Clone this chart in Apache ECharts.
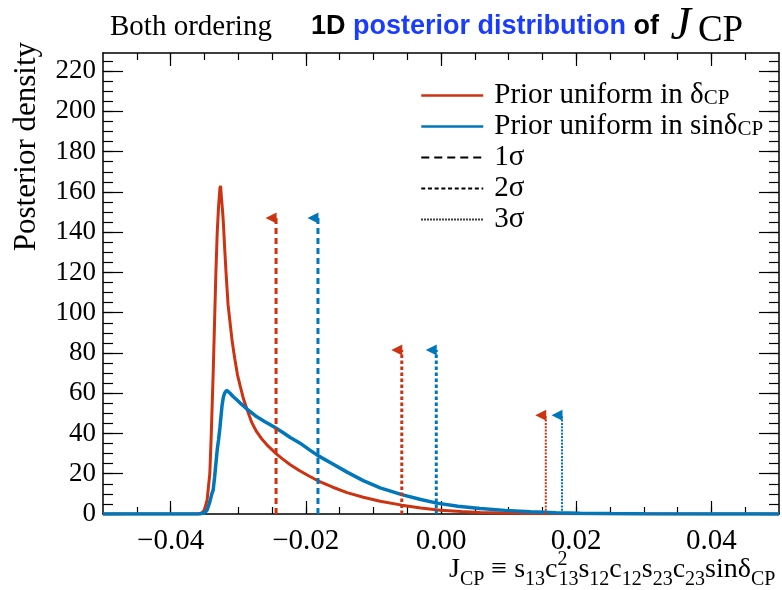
<!DOCTYPE html>
<html><head><meta charset="utf-8">
<script src="https://cdn.jsdelivr.net/npm/echarts@6/dist/echarts.min.js"></script>
<style>html,body{margin:0;padding:0;background:#fff}#c{width:782px;height:590px}</style>
</head><body><div id="c"></div>
<script>
// ---- data ----
const redJ = [-0.0500,-0.0360,-0.0354,-0.0350,-0.0346,-0.0342,-0.0340,-0.0337,-0.0335,-0.0333,-0.0331,-0.0329,-0.0327,-0.0326,-0.0325,-0.0323,-0.0322,-0.0320,-0.0318,-0.0315,-0.0312,-0.0309,-0.0305,-0.0301,-0.0297,-0.0292,-0.0287,-0.0280,-0.0273,-0.0265,-0.0256,-0.0244,-0.0235,-0.0223,-0.0209,-0.0196,-0.0182,-0.0160,-0.0139,-0.0115,-0.0090,-0.0058,-0.0030,-0.0001,0.0030,0.0058,0.0100,0.0132,0.0200,0.0300,0.0400,0.0500];
const redV = [0,0,0.5,2,7,20,38,70,95,120,140,153,162,163,158,150,145,132,120,104,95,86,77,69,63.5,57,52,45.5,41,37.2,33.8,30,27.5,24.5,21.5,19,16.5,13.3,10.6,8.3,6.3,4.4,3,1.9,1.2,0.8,0.45,0.3,0.12,0.04,0.01,0];
const blueJ = [-0.0500,-0.0358,-0.0350,-0.0346,-0.0342,-0.0339,-0.0337,-0.0335,-0.0333,-0.0331,-0.0329,-0.0327,-0.0324,-0.0322,-0.0320,-0.0317,-0.0315,-0.0312,-0.0308,-0.0303,-0.0297,-0.0290,-0.0282,-0.0273,-0.0261,-0.0248,-0.0235,-0.0223,-0.0209,-0.0195,-0.0182,-0.0160,-0.0139,-0.0115,-0.0090,-0.0058,-0.0030,-0.0006,0.0025,0.0058,0.0095,0.0132,0.0170,0.0206,0.0250,0.0300,0.0400,0.0500];
const blueV = [0,0,0.5,2,6,10,12,18,25,32,37,43,53.6,58,60.1,61.5,61.4,60,58.5,57,55.1,53,50.8,48.4,46,43.5,40.7,38,35.3,32,29,24.8,20.8,16.6,13,9.6,7.2,5.4,3.8,2.7,1.8,1.1,0.6,0.35,0.2,0.1,0.03,0];
const sigmaNames = ['1σ','2σ','3σ'];
const redLimits = [-0.0244,-0.0058,0.0155];
const blueLimits = [-0.0182,-0.0007,0.0179];
const limitHeights = [147,81.5,49];
const xMajorTicks = [-0.04,-0.02,0,0.02,0.04];
const xMinorTicks = [-0.045,-0.04,-0.035,-0.03,-0.025,-0.02,-0.015,-0.01,-0.005,0,0.005,0.01,0.015,0.02,0.025,0.03,0.035,0.04,0.045];
const yMajorTicks = [0,20,40,60,80,100,120,140,160,180,200,220];
const yMinorTicks = [0,5,10,15,20,25,30,35,40,45,50,55,60,65,70,75,80,85,90,95,100,105,110,115,120,125,130,135,140,145,150,155,160,165,170,175,180,185,190,195,200,205,210,215,220,225];
const seriesNames = ['Prior uniform in δCP','Prior uniform in sinδCP'];
const legendLabels = {'Prior uniform in δCP':'{t|Prior uniform in δ}{s|CP}','Prior uniform in sinδCP':'{t|Prior uniform in sinδ}{s|CP}','1σ':'{t|1σ}','2σ':'{t|2σ}','3σ':'{t|3σ}'};

// ---- styles ----
const RED = '#CC3311', BLUE = '#0077BB';
const SERIF = 'Liberation Serif';
const zip = (a, b) => a.map((v, i) => [v, b[i]]);
const sigmaDash = [[6,4],[3.5,2.5],[2,1.3]];
const sigmaWidth = [3,3,2];
const legendDash = [[8,5],[4,2.7],[1.5,1.5]];
const legendWidth = [2,2,1.5];

function fmtX(v){ if (Math.abs(v) < 1e-9) return '0.00'; return (v < 0 ? '\u2212' : '') + Math.abs(v).toFixed(2); }

function xAx(pos, ticks, len, line, labels){
  return {type:'value', position:pos, min:-0.05, max:0.05,
    axisLine:{show:line, onZero:false, lineStyle:{color:'#000', width:1.5}},
    axisTick:{show:true, inside:true, length:len, customValues:ticks, lineStyle:{color:'#000', width:1.2}},
    axisLabel:{show:labels, customValues:ticks, formatter:fmtX, margin:13, fontFamily:SERIF, fontSize:29, color:'#000'},
    splitLine:{show:false}, minorTick:{show:false}};
}
function yAx(pos, ticks, len, line, labels){
  return {type:'value', position:pos, min:0, max:229,
    axisLine:{show:line, onZero:false, lineStyle:{color:'#000', width:1.5}},
    axisTick:{show:true, inside:true, length:len, customValues:ticks, lineStyle:{color:'#000', width:1.2}},
    axisLabel:{show:labels, customValues:ticks, margin:7, fontFamily:SERIF, fontSize:27, color:'#000'},
    splitLine:{show:false}, minorTick:{show:false}};
}

const series = [
  {type:'line', name:seriesNames[0], data:zip(redJ, redV), symbol:'none', clip:true,
   lineStyle:{color:RED, width:3}, itemStyle:{color:RED}, z:3},
  {type:'line', name:seriesNames[1], data:zip(blueJ, blueV), symbol:'none', clip:true,
   lineStyle:{color:BLUE, width:3.5}, itemStyle:{color:BLUE}, z:4}
];
sigmaNames.forEach((n, k) => {
  series.push({type:'line', name:n, data:[], symbol:'none',
    lineStyle:{color:'#000', width:legendWidth[k], type:legendDash[k]}, itemStyle:{color:'#000'}});
});
sigmaNames.forEach((n, k) => {
  [[redLimits[k], RED], [blueLimits[k], BLUE]].forEach(([x, col]) => {
    series.push({type:'line', data:[
        {value:[x, 0], symbol:'none'},
        {value:[x, limitHeights[k]], symbol:'triangle', symbolSize:[11,11], symbolRotate:90, symbolOffset:[-5,0]}],
      showSymbol:true, silent:true, clip:false, z:5,
      lineStyle:{color:col, width:sigmaWidth[k], type:sigmaDash[k]}, itemStyle:{color:col}});
  });
});

const legendData = seriesNames.map(n => ({name:n, lineStyle:{width:2.5}, itemStyle:{opacity:0}}))
  .concat(sigmaNames.map(n => ({name:n, itemStyle:{opacity:0}})));

const chart = echarts.init(document.getElementById('c'), null, {renderer:'canvas'});
chart.setOption({
  animation:false,
  backgroundColor:'#fff',
  grid:{left:103, right:3, top:53, bottom:76, containLabel:false},
  xAxis:[xAx('bottom', xMajorTicks, 13, true, true), xAx('bottom', xMinorTicks, 7, false, false),
         xAx('top', xMajorTicks, 13, true, false), xAx('top', xMinorTicks, 7, false, false)],
  yAxis:[yAx('left', yMajorTicks, 20, true, true), yAx('left', yMinorTicks, 10, false, false),
         yAx('right', yMajorTicks, 20, true, false), yAx('right', yMinorTicks, 10, false, false)],
  legend:{data:legendData, orient:'vertical', left:415, top:76, itemWidth:62, itemHeight:26, itemGap:2,
    selectedMode:false, formatter:n => legendLabels[n],
    textStyle:{color:'#000', fontFamily:SERIF, fontSize:29, padding:[0,0,0,6],
      rich:{t:{fontFamily:SERIF, fontSize:29, lineHeight:26, color:'#000'},
            s:{fontFamily:SERIF, fontSize:21, lineHeight:14, verticalAlign:'bottom', color:'#000'}}}},
  graphic:[
    {type:'text', x:110, y:27, style:{text:'Both ordering', font:'29px "Liberation Serif"', fill:'#000', align:'left', verticalAlign:'middle', textAlign:'left', textVerticalAlign:'middle'}},
    {type:'text', x:311, y:27, style:{text:'{b|1D }{c|posterior distribution}{b| of }{j|J}{s|CP}',
      align:'left', verticalAlign:'middle', textAlign:'left', textVerticalAlign:'middle',
      rich:{b:{fontFamily:'Liberation Sans', fontWeight:'bold', fontSize:27, fill:'#000', lineHeight:46},
            c:{fontFamily:'Liberation Sans', fontWeight:'bold', fontSize:27, fill:'#1a3cff', lineHeight:46},
            j:{fontFamily:SERIF, fontStyle:'italic', fontSize:46, fill:'#000', lineHeight:46, padding:[0,0,0,4]},
            s:{fontFamily:SERIF, fontSize:37, fill:'#000', lineHeight:28, verticalAlign:'bottom', padding:[0,0,0,7]}}}},
    {type:'text', x:449, y:570, style:{text:'{m|J}{s|CP}{m| ≡ s}{s|13}{m|c}{p|2}{s|13}{m|s}{s|12}{m|c}{s|12}{m|s}{s|23}{m|c}{s|23}{m|sinδ}{s|CP}',
      align:'left', verticalAlign:'middle', textAlign:'left', textVerticalAlign:'middle',
      rich:{m:{fontFamily:SERIF, fontSize:28, fill:'#000', lineHeight:40},
            s:{fontFamily:SERIF, fontSize:20, fill:'#000', lineHeight:24, verticalAlign:'bottom'},
            p:{fontFamily:SERIF, fontSize:20, fill:'#000', lineHeight:30, verticalAlign:'top', width:1}}}},
    {type:'text', x:27, y:42, rotation:Math.PI/2, style:{text:'Posterior density', font:'31px "Liberation Serif"', fill:'#000',
      align:'right', verticalAlign:'middle', textAlign:'right', textVerticalAlign:'middle'}}
  ],
  series:series
});
</script></body></html>
